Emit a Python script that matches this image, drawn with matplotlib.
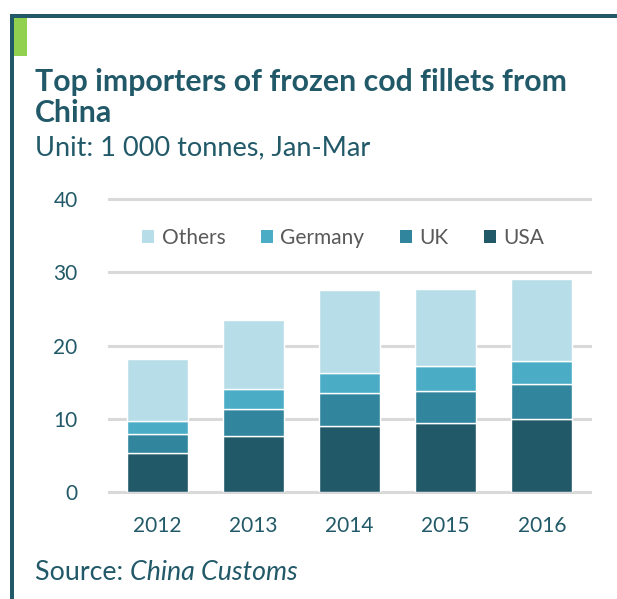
import matplotlib
matplotlib.use("Agg")
import matplotlib.pyplot as plt
from matplotlib.patches import Rectangle, Patch
import numpy as np

years = ["2012", "2013", "2014", "2015", "2016"]
usa = [5.3, 7.7, 9.0, 9.4, 10.0]
uk = [2.7, 3.7, 4.6, 4.4, 4.7]
germany = [1.7, 2.7, 2.7, 3.4, 3.2]
others = [8.4, 9.4, 11.3, 10.5, 11.2]
yticks = [0, 10, 20, 30, 40]

W, H = 617, 599
DPI = 100
plt.rcParams['font.family'] = ['Lato', 'DejaVu Sans']
TEAL = "#215968"
C_USA = "#215968"
C_UK = "#31859C"
C_GER = "#4BACC6"
C_OTH = "#B7DEE8"
GRID = "#D9D9D9"
LEG = "#595959"

fig = plt.figure(figsize=(W / DPI, H / DPI), dpi=DPI)

def fx(x):
    return x / W

def fy(y):
    return 1 - y / H

# frame
fig.add_artist(Rectangle((fx(10), fy(17.5)), fx(617 - 10), 3.5 / H, color=TEAL, transform=fig.transFigure, lw=0))
fig.add_artist(Rectangle((fx(10), 0), fx(4), fy(14), color=TEAL, transform=fig.transFigure, lw=0))
fig.add_artist(Rectangle((fx(14), fy(56)), fx(13), (56 - 17.5) / H, color="#92D050", transform=fig.transFigure, lw=0))

# titles
fig.text(fx(35), fy(91), "Top importers of frozen cod fillets from", fontsize=21.8, fontweight="bold",
         color=TEAL, va="baseline", ha="left")
fig.text(fx(35), fy(122), "China", fontsize=21.8, fontweight="bold", color=TEAL, va="baseline", ha="left")
fig.text(fx(35), fy(155), "Unit: 1 000 tonnes, Jan-Mar", fontsize=19.5, color=TEAL, va="baseline", ha="left")

# axes
left, right = 109, 590
top, bottom = 198.8, 492.3
ax = fig.add_axes([fx(left), fy(bottom), fx(right - left), (bottom - top) / H])
x = np.arange(len(years))
bw = 0.635
b0 = np.zeros(len(years))
series = [(usa, C_USA, "USA"), (uk, C_UK, "UK"), (germany, C_GER, "Germany"), (others, C_OTH, "Others")]
for vals, col, name in series:
    ax.bar(x, vals, bw, bottom=b0, color=col, edgecolor="white", linewidth=1.0, zorder=3, label=name)
    b0 = b0 + np.array(vals)

ax.set_xlim(-0.5, len(years) - 0.5)
ax.set_ylim(0, 40)
ax.set_yticks(yticks)
ax.set_xticks(x)
ax.set_xticklabels(years)
ax.grid(axis="y", color=GRID, linewidth=2.2, zorder=0)
for gl in ax.get_ygridlines():
    gl.set_clip_on(False)
for s in ax.spines.values():
    s.set_visible(False)
ax.tick_params(axis="both", length=0, labelsize=15, labelcolor=TEAL)
ax.tick_params(axis="y", pad=22.5)
ax.tick_params(axis="x", pad=17)

handles = [Patch(facecolor=C_OTH, label="Others"), Patch(facecolor=C_GER, label="Germany"),
           Patch(facecolor=C_UK, label="UK"), Patch(facecolor=C_USA, label="USA")]
leg = fig.legend(handles=handles, ncol=4, loc="center", bbox_to_anchor=(fx(343), fy(238)),
                 frameon=False, fontsize=15, handlelength=0.58, handleheight=0.58,
                 handletextpad=0.35, columnspacing=1.7, borderaxespad=0)
for t in leg.get_texts():
    t.set_color(LEG)

# source
t1 = fig.text(fx(35), fy(580), "Source: ", fontsize=19.3, color=TEAL, va="baseline", ha="left")
fig.canvas.draw()
bb = t1.get_window_extent(fig.canvas.get_renderer())
fig.text(bb.x1 / fig.bbox.width, fy(580), "China Customs", fontsize=19.3, style="italic",
         color=TEAL, va="baseline", ha="left")

fig.savefig("out.png", dpi=DPI)
